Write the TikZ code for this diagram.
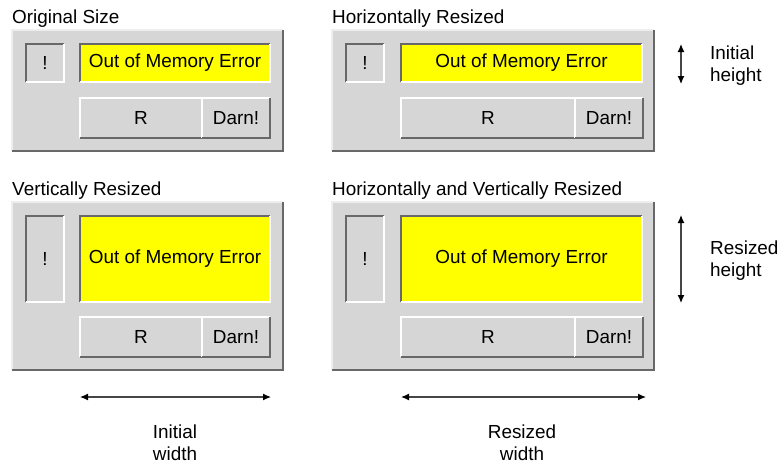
\documentclass[tikz,border=0pt]{standalone}
\usepackage{fontspec}
\setmainfont{Liberation Sans}
\usetikzlibrary{arrows.meta}

\definecolor{panelgray}{RGB}{214,214,214}
\definecolor{edgedark}{RGB}{104,104,104}
\definecolor{edgelight}{RGB}{238,238,238}
\definecolor{msgyellow}{RGB}{255,255,0}
\definecolor{dimgray}{RGB}{70,70,70}

\tikzset{
  box/.style={anchor=north west, inner sep=0pt, outer sep=0pt, fill=panelgray},
  well/.style={box},
  msg/.style={box, fill=msgyellow},
  btn/.style={box, minimum height=40pt},
  title/.style={anchor=west, inner sep=0pt},
  dim/.style={draw=dimgray, line width=1.2pt,
    {Latex[length=8pt,width=7pt,color=black]}-{Latex[length=8pt,width=7pt,color=black]}},
  dimtext/.style={align=#1, inner sep=0pt}
}
% light edge on top/left, dark edge on bottom/right
\newcommand{\bevel}[3]{%
  \draw[#2, line width=1.5pt] (#1.south west) |- (#1.north east);
  \draw[#3, line width=1.5pt] (#1.south west) -| (#1.north east);
}

\begin{document}
\begin{tikzpicture}[x=1pt,y=1pt,yscale=-1,xscale=1]
\useasboundingbox (0,0) rectangle (782,464);
\fontsize{18.9}{22}\selectfont

% Original Size
\node[title] (t1) at (12,19) {Original Size};
\node[box, minimum width=271pt, minimum height=121pt] (p1) at (12,30) {};
\bevel{p1}{edgelight}{edgedark}
\node[well, minimum width=38pt, minimum height=38pt] (i1) at (26,44) {!};
\bevel{i1}{edgedark}{white}
\node[msg, minimum width=190pt, minimum height=38pt] (m1) at (80,44) {Out of Memory Error};
\bevel{m1}{edgedark}{white}
\node[btn, minimum width=122pt] (r1) at (80,98) {R};
\bevel{r1}{white}{edgedark}
\node[btn, minimum width=68pt] (d1) at (202,98) {Darn!};
\bevel{d1}{white}{edgedark}

% Horizontally Resized
\node[title] (t2) at (332,19) {Horizontally Resized};
\node[box, minimum width=322pt, minimum height=121pt] (p2) at (332,30) {};
\bevel{p2}{edgelight}{edgedark}
\node[well, minimum width=38pt, minimum height=38pt] (i2) at (346,44) {!};
\bevel{i2}{edgedark}{white}
\node[msg, minimum width=241pt, minimum height=38pt] (m2) at (401,44) {Out of Memory Error};
\bevel{m2}{edgedark}{white}
\node[btn, minimum width=174pt] (r2) at (401,98) {R};
\bevel{r2}{white}{edgedark}
\node[btn, minimum width=68pt] (d2) at (575,98) {Darn!};
\bevel{d2}{white}{edgedark}

% Vertically Resized
\node[title] (t3) at (12,191) {Vertically Resized};
\node[box, minimum width=271pt, minimum height=168pt] (p3) at (12,202) {};
\bevel{p3}{edgelight}{edgedark}
\node[well, minimum width=38pt, minimum height=86pt] (i3) at (26,216) {!};
\bevel{i3}{edgedark}{white}
\node[msg, minimum width=190pt, minimum height=86pt] (m3) at (80,216) {Out of Memory Error};
\bevel{m3}{edgedark}{white}
\node[btn, minimum width=122pt] (r3) at (80,317) {R};
\bevel{r3}{white}{edgedark}
\node[btn, minimum width=68pt] (d3) at (202,317) {Darn!};
\bevel{d3}{white}{edgedark}

% Horizontally and Vertically Resized
\node[title] (t4) at (332,191) {Horizontally and Vertically Resized};
\node[box, minimum width=322pt, minimum height=168pt] (p4) at (332,202) {};
\bevel{p4}{edgelight}{edgedark}
\node[well, minimum width=38pt, minimum height=86pt] (i4) at (346,216) {!};
\bevel{i4}{edgedark}{white}
\node[msg, minimum width=241pt, minimum height=86pt] (m4) at (401,216) {Out of Memory Error};
\bevel{m4}{edgedark}{white}
\node[btn, minimum width=174pt] (r4) at (401,317) {R};
\bevel{r4}{white}{edgedark}
\node[btn, minimum width=68pt] (d4) at (575,317) {Darn!};
\bevel{d4}{white}{edgedark}

% dimension arrows
\coordinate (ihtop) at (681,44);
\coordinate (ihbot) at (681,84);
\coordinate (rhtop) at (681,215);
\coordinate (rhbot) at (681,303);
\coordinate (iwl) at (80,397);
\coordinate (iwr) at (271,397);
\coordinate (rwl) at (401,397);
\coordinate (rwr) at (646,397);
\draw[dim] (ihtop) -- (ihbot);
\draw[dim] (rhtop) -- (rhbot);
\draw[dim] (iwl) -- (iwr);
\draw[dim] (rwl) -- (rwr);

\node[dimtext=left, anchor=west] (ih) at (710,66) {Initial\\height};
\node[dimtext=left, anchor=west] (rh) at (710,261) {Resized\\height};
\node[dimtext=center] (iw) at (175,443) {Initial\\width};
\node[dimtext=center] (rw) at (522,443) {Resized\\width};

\end{tikzpicture}
\end{document}
